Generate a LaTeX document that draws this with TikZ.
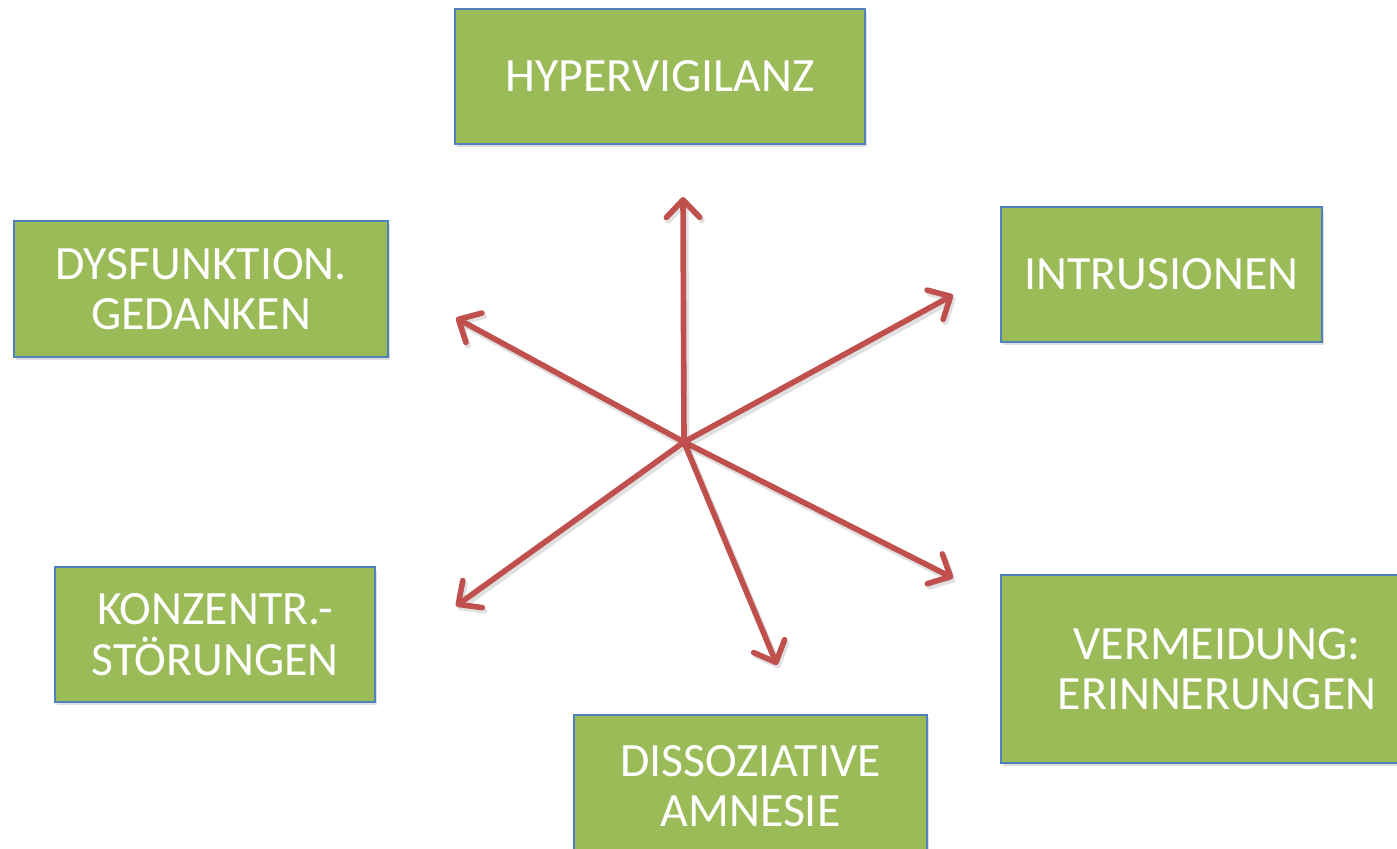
\documentclass[tikz,border=0pt]{standalone}
\usepackage{fontspec}
\setmainfont{Carlito}
\usetikzlibrary{arrows.meta,shadows}
\definecolor{boxgreen}{HTML}{9BBB59}
\definecolor{boxblue}{HTML}{4F81BD}
\definecolor{arrowred}{HTML}{C0504D}
\begin{document}
\begin{tikzpicture}[x=0.01cm,y=-0.01cm,
  symptom/.style={draw=boxblue, line width=0.7pt, fill=boxgreen, text=white,
    align=center, inner sep=0pt,
    font=\fontsize{13.6}{14.4}\selectfont,
    drop shadow={shadow xshift=0.6pt, shadow yshift=-0.9pt, opacity=0.25}},
  ray/.style={draw=arrowred, line width=1.6pt, line cap=round,
    -{Straight Barb[length=5pt, width=9.5pt, line width=1.6pt, round]},
    preaction={draw=black, opacity=0.12, line width=1.9pt, transform canvas={xshift=0.6pt, yshift=-0.9pt}}}
]
\useasboundingbox (0,0) rectangle (1397,849);
\begin{scope}
\clip (0,0) rectangle (1397,849);
\node[symptom, minimum width=4.10cm, minimum height=1.35cm] (hyp) at (660,76.5) {HYPERVIGILANZ};
\node[symptom, minimum width=3.74cm, minimum height=1.36cm] (dys) at (201,289) {DYSFUNKTION.\\GEDANKEN};
\node[symptom, minimum width=3.21cm, minimum height=1.35cm] (intr) at (1161.5,274.5) {INTRUSIONEN};
\node[symptom, minimum width=3.20cm, minimum height=1.35cm] (konz) at (215,634.5) {KONZENTR.-\\STÖRUNGEN};
\node[symptom, minimum width=4.32cm, minimum height=1.88cm] (verm) at (1217,669) {VERMEIDUNG:\\ERINNERUNGEN};
\node[symptom, minimum width=3.53cm, minimum height=1.42cm] (diss) at (750.5,786) {DISSOZIATIVE\\AMNESIE};
\end{scope}

% common origin of all rays and their free tips
\coordinate (hub) at (684,442);
\coordinate (tHyp) at (683,197);
\coordinate (tDys) at (456,318);
\coordinate (tIntr) at (953,295);
\coordinate (tKonz) at (456,606);
\coordinate (tVerm) at (953,578);
\coordinate (tDiss) at (777,665);

\draw[ray] (hub) -- (tHyp);
\draw[ray] (hub) -- (tDys);
\draw[ray] (hub) -- (tIntr);
\draw[ray] (hub) -- (tKonz);
\draw[ray] (hub) -- (tVerm);
\draw[ray] (hub) -- (tDiss);
\end{tikzpicture}
\end{document}
